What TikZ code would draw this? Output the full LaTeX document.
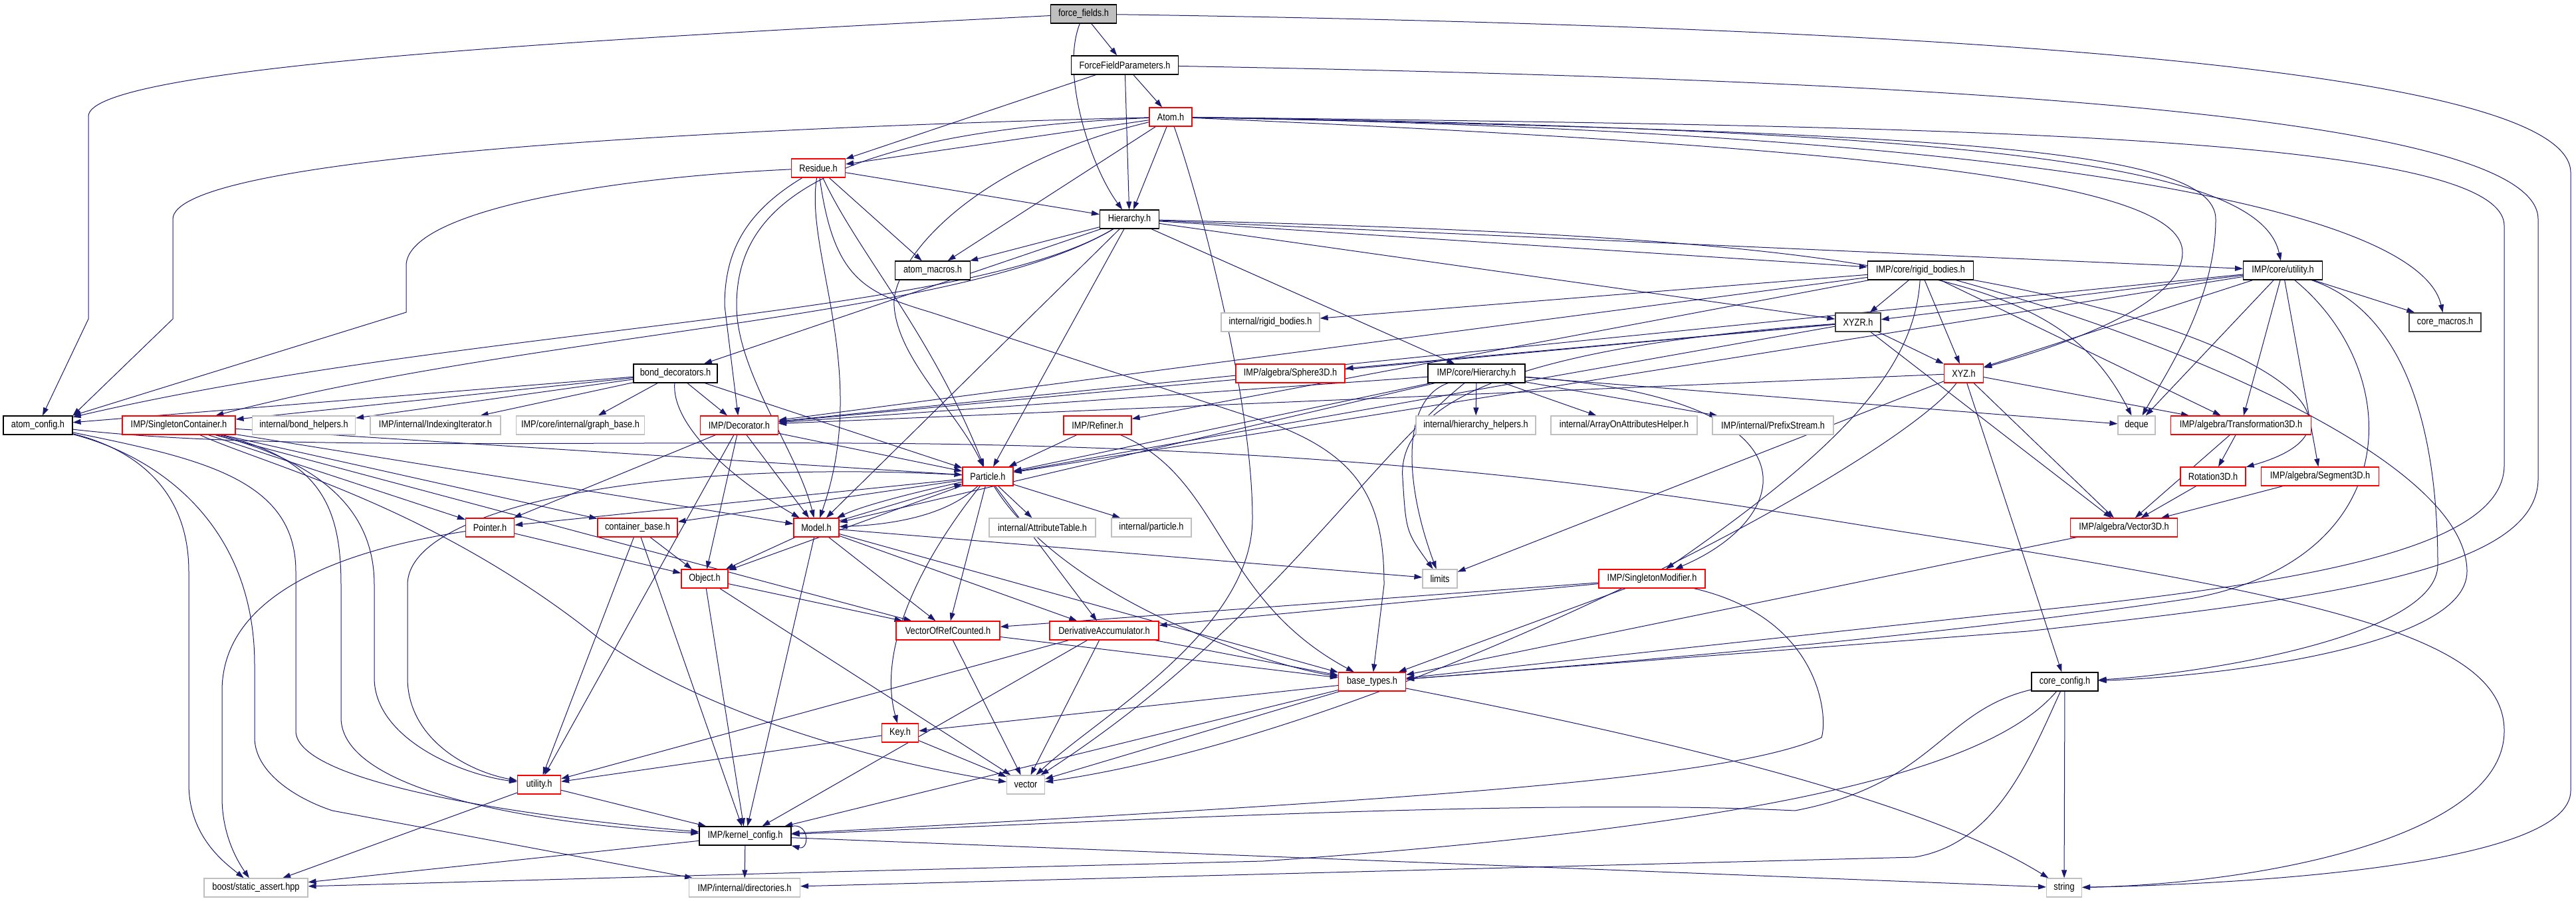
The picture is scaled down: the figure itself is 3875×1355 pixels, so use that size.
\documentclass[tikz,border=0pt]{standalone}
\usepackage{fontspec}
\setmainfont{Liberation Sans}[FakeStretch=0.85]
\usetikzlibrary{arrows.meta,backgrounds}
\definecolor{edgec}{HTML}{191970}
\definecolor{gbord}{HTML}{BFBFBF}
\begin{document}
\begin{tikzpicture}[x=0.5pt,y=0.5pt,
  nb/.style={draw, rectangle, minimum height=14pt, inner sep=0pt, fill=white, line width=0.6pt, font=\fontsize{7.5pt}{9pt}\selectfont},
  blk/.style={nb,draw=black},
  dgr/.style={nb,draw=black!75},
  rd/.style={nb,draw=red},
  gr/.style={nb,draw=gbord},
  root/.style={nb,draw=black,fill=gbord},
  e/.style={draw=edgec, line width=0.5pt, -{Triangle[length=6pt,width=4pt]}}]
\useasboundingbox (0,0) rectangle (3875,-1355);
% nodes
\node[root,minimum width=49.5pt] (ff) at (1630,-21) {force\_fields.h};
\node[blk,minimum width=80.5pt] (ffp) at (1692,-98) {ForceFieldParameters.h};
\node[rd,minimum width=32pt] (atom) at (1761,-176) {Atom.h};
\node[rd,minimum width=40.5pt] (res) at (1231,-253) {Residue.h};
\node[blk,minimum width=44.5pt] (hier) at (1699,-330) {Hierarchy.h};
\node[blk,minimum width=56.5pt] (amac) at (1403,-407) {atom\_macros.h};
\node[blk,minimum width=79.5pt] (rb) at (2889,-407) {IMP/core/rigid\_bodies.h};
\node[blk,minimum width=59.5pt] (cutil) at (3434,-407) {IMP/core/utility.h};
\node[gr,minimum width=74pt] (irb) at (1911,-485) {internal/rigid\_bodies.h};
\node[dgr,minimum width=34pt] (xyzr) at (2795,-485) {XYZR.h};
\node[dgr,minimum width=54pt] (cmac) at (3678,-485) {core\_macros.h};
\node[blk,minimum width=63pt] (bond) at (1016,-562) {bond\_decorators.h};
\node[rd,minimum width=82pt] (sph) at (1941,-562) {IMP/algebra/Sphere3D.h};
\node[blk,minimum width=73pt] (chier) at (2221,-562) {IMP/core/Hierarchy.h};
\node[rd,minimum width=29.5pt] (xyz) at (2954,-562) {XYZ.h};
\node[blk,minimum width=52pt] (acfg) at (57,-640) {atom\_config.h};
\node[rd,minimum width=85pt] (sc) at (269,-640) {IMP/SingletonContainer.h};
\node[gr,minimum width=77.5pt] (bh) at (457,-640) {internal/bond\_helpers.h};
\node[gr,minimum width=98pt] (ii) at (655,-640) {IMP/internal/IndexingIterator.h};
\node[gr,minimum width=96.5pt] (gb) at (873,-640) {IMP/core/internal/graph\_base.h};
\node[rd,minimum width=58.5pt] (dec) at (1112,-640) {IMP/Decorator.h};
\node[rd,minimum width=51pt] (ref) at (1651,-640) {IMP/Refiner.h};
\node[gr,minimum width=90pt] (hh) at (2220,-640) {internal/hierarchy\_helpers.h};
\node[gr,minimum width=110pt] (aoa) at (2443,-640) {internal/ArrayOnAttributesHelper.h};
\node[gr,minimum width=91pt] (ps) at (2667,-640) {IMP/internal/PrefixStream.h};
\node[gr,minimum width=28pt] (deque) at (3214,-640) {deque};
\node[rd,minimum width=105.5pt] (tr) at (3371,-640) {IMP/algebra/Transformation3D.h};
\node[rd,minimum width=38pt] (part) at (1486,-717) {Particle.h};
\node[rd,minimum width=49pt] (rot) at (3329,-717) {Rotation3D.h};
\node[rd,minimum width=88.5pt] (seg) at (3490,-717) {IMP/algebra/Segment3D.h};
\node[rd,minimum width=36.5pt] (ptr) at (737,-794) {Pointer.h};
\node[rd,minimum width=60pt] (cb) at (959,-794) {container\_base.h};
\node[rd,minimum width=34pt] (model) at (1228,-794) {Model.h};
\node[gr,minimum width=80pt] (at) at (1568,-794) {internal/AttributeTable.h};
\node[gr,minimum width=60pt] (ip) at (1732,-794) {internal/particle.h};
\node[rd,minimum width=80.5pt] (v3) at (3195,-794) {IMP/algebra/Vector3D.h};
\node[rd,minimum width=35pt] (obj) at (1060,-871) {Object.h};
\node[gr,minimum width=26pt] (lim) at (2166,-871) {limits};
\node[rd,minimum width=80pt] (sm) at (2485,-871) {IMP/SingletonModifier.h};
\node[rd,minimum width=78pt] (vorc) at (1426,-949) {VectorOfRefCounted.h};
\node[rd,minimum width=82pt] (da) at (1661,-949) {DerivativeAccumulator.h};
\node[rd,minimum width=50.5pt] (bt) at (2064,-1026) {base\_types.h};
\node[blk,minimum width=50pt] (ccfg) at (3106,-1026) {core\_config.h};
\node[rd,minimum width=27.5pt] (key) at (1354,-1103) {Key.h};
\node[rd,minimum width=32.5pt] (util) at (811,-1181) {utility.h};
\node[gr,minimum width=28.5pt] (vec) at (1543,-1181) {vector};
\node[blk,minimum width=69pt] (kcfg) at (1121,-1258) {IMP/kernel\_config.h};
\node[gr,minimum width=78pt] (sa) at (385,-1336) {boost/static\_assert.hpp};
\node[gr,minimum width=83.5pt] (dir) at (1120,-1336) {IMP/internal/directories.h};
\node[gr,minimum width=26.5pt] (str) at (3105,-1336) {string};
% edges
\begin{scope}[on background layer]
% force_fields
\draw[e] (ff) .. controls (900,-58) and (133,-100) .. (133,-175) -- (133,-480) -- (acfg);
\draw[e] (ff) -- (ffp);
\draw[e] (ff) .. controls (1595,-110) and (1640,-250) .. (hier);
\draw[e] (ff) .. controls (2900,-40) and (3867,-100) .. (3867,-260) -- (3867,-1190) .. controls (3867,-1300) and (3400,-1330) .. (str);
% ForceFieldParameters
\draw[e] (ffp) -- (res);
\draw[e] (ffp) -- (atom);
\draw[e] (ffp) -- (hier);
\draw[e] (ffp) .. controls (2900,-120) and (3818,-170) .. (3818,-330) -- (3818,-720) .. controls (3818,-860) and (3500,-900) .. (3050,-950) -- (bt);
% Atom
\draw[e] (atom) -- (res);
\draw[e] (atom) .. controls (1000,-195) and (260,-240) .. (260,-330) -- (260,-480) -- (acfg.north east);
\draw[e] (atom) -- (hier);
\draw[e] (atom) -- (amac);
\draw[e] (atom) .. controls (1200,-200) and (1108,-330) .. (1108,-460) .. controls (1108,-560) and (1200,-680) .. (model);
\draw[e] (atom) .. controls (1450,-250) and (1340,-400) .. (1345,-460) .. controls (1350,-540) and (1440,-620) .. (part);
\draw[e] (atom) .. controls (1805,-300) and (1884,-600) .. (1884,-780) .. controls (1884,-950) and (1650,-1080) .. (vec);
\draw[e] (atom) .. controls (2900,-200) and (3333,-220) .. (3333,-330) .. controls (3333,-450) and (3260,-560) .. (deque);
\draw[e] (atom) .. controls (3000,-195) and (3400,-250) .. (cutil);
\draw[e] (atom) .. controls (3100,-200) and (3640,-320) .. (cmac);
\draw[e] (atom) .. controls (2900,-190) and (3767,-200) .. (3767,-340) -- (3767,-700) .. controls (3767,-830) and (3450,-880) .. (3000,-925) -- (bt);
\draw[e] (atom) .. controls (2900,-225) and (3283,-280) .. (3283,-380) .. controls (3283,-460) and (3100,-520) .. (xyz);
% Residue
\draw[e] (res) .. controls (900,-268) and (611,-320) .. (611,-400) -- (611,-470) -- (acfg.north east);
\draw[e] (res) -- (hier);
\draw[e] (res) -- (amac);
\draw[e] (res) .. controls (1120,-320) and (1090,-380) .. (1090,-460) -- (dec);
\draw[e] (res) .. controls (1290,-380) and (1400,-500) .. (part);
\draw[e] (res) .. controls (1210,-380) and (1310,-560) .. (model);
\draw[e] (res) .. controls (1254,-420) and (1300,-440) .. (1400,-470) -- (1920,-640) .. controls (2050,-690) and (2082,-760) .. (2082,-880) -- (bt);
% Hierarchy
\draw[e] (hier) -- (amac);
\draw[e] (hier) -- (rb);
\draw[e] (hier) -- (cutil);
\draw[e] (hier) -- (xyzr);
\draw[e] (hier) -- (chier);
\draw[e] (hier) .. controls (2900,-360) and (3100,-420) .. (deque);
\draw[e] (hier) .. controls (1450,-480) and (700,-490) .. (acfg);
\draw[e] (hier) .. controls (1450,-480) and (800,-500) .. (sc);
\draw[e] (hier) -- (bond);
\draw[e] (hier) -- (part);
\draw[e] (hier) -- (model);
% bond_decorators
\draw[e] (bond) -- (acfg);
\draw[e] (bond) -- (sc);
\draw[e] (bond) -- (bh);
\draw[e] (bond) -- (ii);
\draw[e] (bond) -- (gb);
\draw[e] (bond) -- (dec);
\draw[e] (bond) -- (part);
\draw[e] (bond) .. controls (1010,-640) and (1100,-720) .. (model);
% core utility
\draw[e] (cutil) -- (xyzr);
\draw[e] (cutil) -- (xyz);
\draw[e] (cutil) -- (deque);
\draw[e] (cutil) -- (tr);
\draw[e] (cutil) -- (seg);
\draw[e] (cutil) -- (cmac);
\draw[e] (cutil) -- (dec);
\draw[e] (cutil) -- (part);
\draw[e] (cutil) .. controls (3620,-470) and (3667,-650) .. (3667,-850) .. controls (3667,-960) and (3300,-1015) .. (ccfg);
\draw[e] (cutil) .. controls (3620,-560) and (3620,-840) .. (3300,-900) .. controls (2900,-960) and (2400,-1000) .. (bt);
% rigid bodies
\draw[e] (rb) -- (irb);
\draw[e] (rb) -- (xyzr);
\draw[e] (rb) -- (xyz);
\draw[e] (rb) -- (tr);
\draw[e] (rb) .. controls (3400,-500) and (3600,-640) .. (rot);
\draw[e] (rb) -- (ref);
\draw[e] (rb) -- (dec);
\draw[e] (rb) .. controls (2880,-560) and (2760,-680) .. (sm);
\draw[e] (rb) .. controls (3300,-520) and (3711,-700) .. (3711,-860) .. controls (3711,-980) and (3300,-1020) .. (ccfg);
% XYZR
\draw[e] (xyzr) -- (sph);
\draw[e] (xyzr) -- (xyz);
\draw[e] (xyzr) .. controls (2300,-520) and (2100,-600) .. (2110,-720) .. controls (2115,-800) .. (lim);
\draw[e] (xyzr) -- (dec);
\draw[e] (xyzr) -- (part);
\draw[e] (xyzr) -- (v3);
% XYZ
\draw[e] (xyz) -- (tr);
\draw[e] (xyz) -- (v3);
\draw[e] (xyz) -- (ccfg);
\draw[e] (xyz) .. controls (2850,-700) and (2100,-1100) .. (vec);
\draw[e] (xyz) -- (lim);
\draw[e] (xyz) -- (dec);
% core Hierarchy
\draw[e] (chier) -- (hh);
\draw[e] (chier) -- (aoa);
\draw[e] (chier) -- (ps);
\draw[e] (chier) -- (dec);
\draw[e] (chier) -- (part);
\draw[e] (chier) -- (model);
\draw[e] (chier) .. controls (2110,-600) and (2110,-720) .. (lim);
\draw[e] (chier) .. controls (2050,-700) and (1900,-950) .. (vec);
\draw[e] (chier) .. controls (2750,-600) and (2700,-780) .. (sm);
\draw[e] (chier) -- (deque);
% algebra
\draw[e] (tr) -- (rot);
\draw[e] (tr) -- (v3);
\draw[e] (rot) -- (v3);
\draw[e] (seg) -- (v3);
\draw[e] (v3) -- (bt);
% Decorator, Refiner
\draw[e] (dec) -- (part);
\draw[e] (dec) -- (model);
\draw[e] (dec) -- (obj);
\draw[e] (dec) -- (ptr);
\draw[e] (dec) -- (util);
\draw[e] (ref) -- (part);
\draw[e] (ref) .. controls (1840,-720) and (1830,-900) .. (bt);
% Particle
\draw[e] (part) .. controls (1380,-740) and (1300,-760) .. (model);
\draw[e] (part) .. controls (1420,-780) and (1330,-790) .. (model);
\draw[e] (part) -- (obj);
\draw[e] (part) -- (at);
\draw[e] (part) -- (ip);
\draw[e] (part) .. controls (1380,-850) and (1320,-980) .. (key);
\draw[e] (part) -- (vorc);
\draw[e] (part) -- (da);
\draw[e] (part) .. controls (1600,-900) and (1900,-1000) .. (bt);
\draw[e] (part) -- (cb);
\draw[e] (part) -- (ptr);
\draw[e] (part) .. controls (1000,-690) and (613,-760) .. (613,-880) -- (613,-1020) .. controls (613,-1110) and (700,-1160) .. (util);
% Model
\draw[e] (model) -- (part);
\draw[e] (model) -- (obj);
\draw[e] (model) -- (bt);
\draw[e] (model) -- (kcfg);
\draw[e] (model) -- (lim);
\draw[e] (model) -- (da);
\draw[e] (model) -- (vorc);
% SingletonContainer
\draw[e] (sc) -- (ptr);
\draw[e] (sc) -- (cb);
\draw[e] (sc) .. controls (500,-700) and (563,-780) .. (563,-880) -- (563,-1020) .. controls (563,-1110) and (690,-1165) .. (util);
\draw[e] (sc) -- (part);
\draw[e] (sc) -- (model);
\draw[e] (sc) -- (vorc);
\draw[e] (sc) .. controls (480,-690) and (513,-760) .. (513,-880) -- (513,-1080) .. controls (513,-1190) and (800,-1240) .. (kcfg);
\draw[e] (sc) .. controls (400,-700) and (650,-760) .. (900,-960) .. controls (1100,-1100) and (1400,-1160) .. (vec);
% atom_config
\draw[e] (acfg) .. controls (300,-690) and (445,-720) .. (445,-860) -- (445,-1100) .. controls (445,-1180) and (800,-1230) .. (kcfg);
\draw[e] (acfg) .. controls (180,-670) and (284,-720) .. (284,-860) -- (284,-1180) .. controls (284,-1260) and (340,-1300) .. (sa);
\draw[e] (acfg) .. controls (250,-690) and (383,-800) .. (383,-1000) -- (383,-1110) .. controls (383,-1160) and (440,-1200) .. (500,-1220) -- (dir);
\draw[e] (acfg) .. controls (400,-680) and (900,-662) .. (1400,-668) .. controls (2200,-680) and (2600,-760) .. (2880,-803) .. controls (3500,-900) and (3767,-960) .. (3767,-1100) .. controls (3767,-1260) and (3400,-1330) .. (str);
% Pointer, container_base, Object
\draw[e] (ptr) -- (obj);
\draw[e] (ptr) .. controls (500,-830) and (334,-900) .. (334,-1040) -- (334,-1200) .. controls (334,-1260) and (360,-1300) .. (sa);
\draw[e] (cb) -- (obj);
\draw[e] (cb) -- (kcfg);
\draw[e] (cb) -- (util);
\draw[e] (obj) -- (vorc);
\draw[e] (obj) -- (vec);
\draw[e] (obj) -- (kcfg);
% SingletonModifier
\draw[e] (sm) -- (vorc);
\draw[e] (sm) -- (da);
\draw[e] (sm) -- (bt);
\draw[e] (sm) .. controls (2740,-930) and (2750,-1080) .. (2740,-1110) .. controls (2600,-1170) and (2200,-1200) .. (kcfg);
% lower part
\draw[e] (vorc) -- (vec);
\draw[e] (vorc) -- (bt);
\draw[e] (da) -- (vec);
\draw[e] (da) -- (util);
\draw[e] (da) -- (kcfg);
\draw[e] (da) -- (bt);
\draw[e] (bt) -- (key);
\draw[e] (bt) -- (vec);
\draw[e] (bt) -- (kcfg);
\draw[e] (bt) .. controls (2700,-1150) and (2950,-1240) .. (str);
\draw[e] (key) -- (vec);
\draw[e] (key) -- (util);
\draw[e] (util) -- (kcfg);
\draw[e] (util) -- (sa);
\draw[e] (kcfg) -- (dir);
\draw[e] (kcfg) -- (sa);
\draw[e] (kcfg) -- (str);
\draw[e] (kcfg.north east) .. controls (1218,-1238) and (1218,-1280) .. (kcfg.south east);
\draw[e] (ccfg) .. controls (2920,-1070) and (2910,-1180) .. (2700,-1220) .. controls (2300,-1200) and (1600,-1240) .. (kcfg);
\draw[e] (ccfg) .. controls (3050,-1150) and (3000,-1270) .. (2880,-1290) -- (dir);
\draw[e] (ccfg) -- (str);
\draw[e] (ccfg) .. controls (3000,-1150) and (2700,-1240) .. (1900,-1296) -- (1250,-1312) -- (sa);
\end{scope}
\end{tikzpicture}
\end{document}
